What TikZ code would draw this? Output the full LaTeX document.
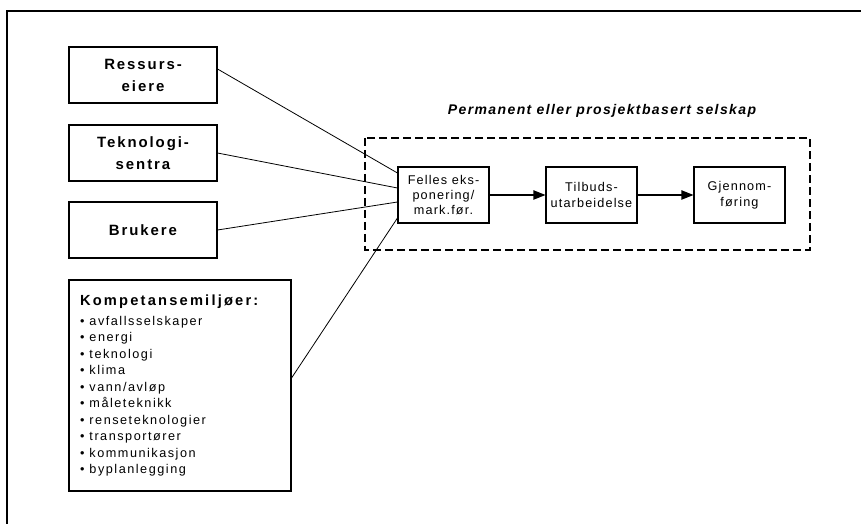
\documentclass[tikz,border=0pt]{standalone}
\usepackage{fontspec}
\setmainfont{Liberation Sans}
\usepackage{tikz}
\usetikzlibrary{arrows.meta,backgrounds}

\tikzset{
  kilde/.style={draw, line width=0.8pt, minimum width=111pt, minimum height=42pt,
    inner sep=1pt, align=center, font=\fontsize{11.2}{16.5}\selectfont\bfseries\addfontfeature{LetterSpace=13}},
  trinn/.style={draw, line width=0.8pt, minimum width=68.25pt, minimum height=42pt,
    inner sep=0.5pt, align=center, font=\fontsize{9.5}{11.6}\selectfont\addfontfeature{LetterSpace=9}},
  pil/.style={-{Triangle[length=9pt,width=7pt]}, line width=0.8pt},
  linje/.style={line width=0.6pt}
}

\begin{document}
\begin{tikzpicture}[x=0.75pt,y=0.75pt,yscale=-1,xscale=1]
\useasboundingbox (0,0) rectangle (861,524);

%Outer frame
\draw[line width=1.2pt] (7,11) rectangle (880,545);

%Source boxes
\node[kilde] (ressurs) at (143,75) {Ressurs-\\eiere};
\node[kilde] (teknologi) at (143,153) {Teknologi-\\sentra};
\node[kilde] (brukere) at (143,230) {Brukere};

%Competence box
\node[draw, line width=0.8pt, minimum width=166.5pt, minimum height=158.25pt, inner sep=0pt] (kompetanse) at (180,385.5) {%
  \begin{minipage}[c]{150pt}
  {\fontsize{11}{15}\selectfont\bfseries\addfontfeature{LetterSpace=15}Kompetansemiljøer:}\\[2.5pt]
  {\fontsize{9.5}{12.4}\selectfont\addfontfeature{LetterSpace=12}%
  • avfallsselskaper\\
  • energi\\
  • teknologi\\
  • klima\\
  • vann/avløp\\
  • måleteknikk\\
  • renseteknologier\\
  • transportører\\
  • kommunikasjon\\
  • byplanlegging\par}
  \end{minipage}};

%Company frame
\draw[dashed, dash pattern=on 6pt off 3pt, line width=1.1pt] (365,138) rectangle (810,250);
\node[anchor=base, font=\fontsize{10.5}{12}\selectfont\bfseries\itshape\addfontfeature{LetterSpace=10}] (selskap) at (602,115) {Permanent eller prosjektbasert selskap};

%Process steps
\node[trinn] (felles) at (443.5,195) {Felles eks-\\ponering/\\mark.før.};
\node[trinn] (tilbud) at (591.5,195) {Tilbuds-\\utarbeidelse};
\node[trinn] (gjennom) at (739.5,195) {Gjennom-\\føring};

\draw[pil] (felles) -- (tilbud);
\draw[pil] (tilbud) -- (gjennom);

%Connectors
\draw[linje] ([yshift=-4.5pt]ressurs.east) -- ([yshift=-16.5pt]felles.west);
\draw[linje] (teknologi.east) -- ([yshift=-5.25pt]felles.west);
\draw[linje] (brukere.east) -- ([yshift=5.25pt]felles.west);
\draw[linje] ([yshift=-5.6pt]kompetanse.east) -- ([yshift=17.25pt]felles.west);

\end{tikzpicture}
\end{document}
